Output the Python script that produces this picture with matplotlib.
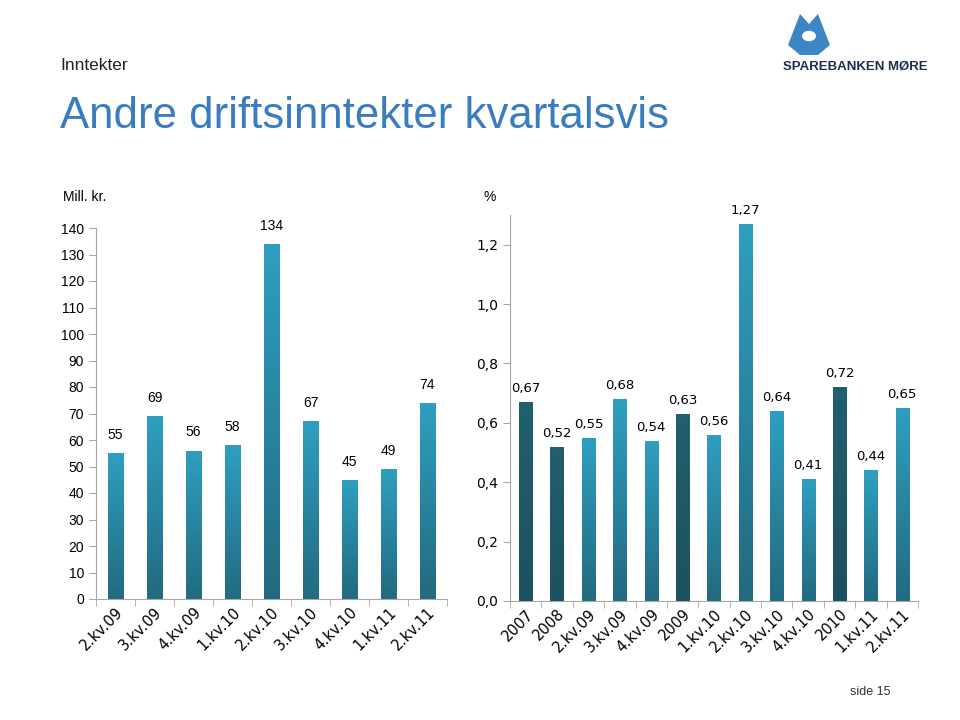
# Andre driftsinntekter kvartalsvis - two bar charts side by side
import numpy as np
import matplotlib.pyplot as plt
from matplotlib.patches import Polygon, Circle
from matplotlib.colors import LinearSegmentedColormap

# left chart: Mill. kr. per quarter
quarters = ["2.kv.09", "3.kv.09", "4.kv.09", "1.kv.10", "2.kv.10",
            "3.kv.10", "4.kv.10", "1.kv.11", "2.kv.11"]
income = [55, 69, 56, 58, 134, 67, 45, 49, 74]

# right chart: % (years dark, quarters light)
periods = ["2007", "2008", "2.kv.09", "3.kv.09", "4.kv.09", "2009", "1.kv.10",
           "2.kv.10", "3.kv.10", "4.kv.10", "2010", "1.kv.11", "2.kv.11"]
pct = [0.67, 0.52, 0.55, 0.68, 0.54, 0.63, 0.56, 1.27, 0.64, 0.41, 0.72, 0.44, 0.65]
is_year = [True, True, False, False, False, True, False, False, False, False, True, False, False]

TEAL = "#2a8eab"
DARK = "#1f5b6b"
AXIS = "#a6a6a6"
teal_grad = LinearSegmentedColormap.from_list("tg", ["#226a7f", "#2f9fc0"])
dark_grad = LinearSegmentedColormap.from_list("dg", ["#1d5060", "#22606f"])

plt.rcParams['font.family'] = ['Liberation Sans', 'DejaVu Sans']

fig = plt.figure(figsize=(9.6, 7.2), dpi=100)
fig.patch.set_facecolor("white")

# header
fig.text(60/960, 1-66/720, "Inntekter", fontsize=12.5, color="#222222", va="center")
fig.text(60/960, 1-117/720, "Andre driftsinntekter kvartalsvis", fontsize=31.5,
         color="#3a7cc0", va="center")
fig.text(855/960, 1-66/720, "SPAREBANKEN MØRE", fontsize=9.5, fontweight="bold",
         color="#1e2e4f", ha="center", va="center")
# rough logo mark
logo = Polygon([[788/960, 1-45/720], [800/960, 1-14/720], [809/960, 1-24/720],
                [818/960, 1-14/720], [830/960, 1-45/720], [818/960, 1-55/720],
                [800/960, 1-55/720]], closed=True, transform=fig.transFigure,
               facecolor="#3d86c6", edgecolor="none")
fig.patches.append(logo)
fig.patches.append(Circle((809/960, 1-36/720), 7/960, transform=fig.transFigure,
                          facecolor="white", edgecolor="none"))
fig.text(870/960, 1-692/720, "side 15", fontsize=9, color="#333333", ha="center", va="center")


def style_axes(ax, n):
    for s in ["top", "right"]:
        ax.spines[s].set_visible(False)
    ax.spines["left"].set_color(AXIS)
    ax.spines["bottom"].set_color(AXIS)
    ax.set_xlim(-0.5, n - 0.5)
    ax.set_xticks(np.arange(-0.5, n, 1.0), minor=True)
    ax.tick_params(axis="x", which="major", length=0, pad=4)
    ax.tick_params(axis="x", which="minor", length=5, color=AXIS)
    ax.tick_params(axis="y", length=5, color=AXIS, labelsize=10)


def gradient_bars(ax, bars, cmaps):
    grad = np.linspace(0, 1, 256).reshape(-1, 1)
    xl, yl = ax.get_xlim(), ax.get_ylim()
    for b, cm in zip(bars, cmaps):
        x0, y0 = b.get_x(), b.get_y()
        im = ax.imshow(grad, extent=[x0, x0 + b.get_width(), y0, y0 + b.get_height()],
                       origin="lower", aspect="auto", cmap=cm, zorder=b.get_zorder())
        im.set_clip_path(b)
    ax.set_xlim(xl)
    ax.set_ylim(yl)


lab_font = ['DejaVu Sans']

# left chart
ax1 = fig.add_axes([96/960, 1-599/720, 351/960, 371/720])
x1 = np.arange(len(quarters))
bars1 = ax1.bar(x1, income, width=0.41, color=TEAL)
ax1.set_ylim(0, 140)
ax1.set_yticks(range(0, 141, 10))
style_axes(ax1, len(quarters))
gradient_bars(ax1, bars1, [teal_grad] * len(quarters))
ax1.set_xticks(x1)
ax1.set_xticklabels(quarters, rotation=45, ha="right", rotation_mode="anchor",
                    fontsize=10.5, family=lab_font)
for xi, v in zip(x1, income):
    ax1.annotate(str(v), (xi, v), xytext=(0, 8), textcoords="offset points",
                 ha="center", va="bottom", fontsize=10)
fig.text(63/960, 1-197/720, "Mill. kr.", fontsize=10, va="center")

# right chart
ax2 = fig.add_axes([510/960, 1-601/720, 408/960, 386/720])
x2 = np.arange(len(periods))
colors = [DARK if y else TEAL for y in is_year]
bars2 = ax2.bar(x2, pct, width=0.42, color=colors)
ax2.set_ylim(0, 1.3)
ticks2 = np.arange(0, 1.21, 0.2)
ax2.set_yticks(ticks2)
ax2.set_yticklabels([("%.1f" % t).replace(".", ",") for t in ticks2], family=lab_font)
style_axes(ax2, len(periods))
gradient_bars(ax2, bars2, [dark_grad if y else teal_grad for y in is_year])
ax2.set_xticks(x2)
ax2.set_xticklabels(periods, rotation=45, ha="right", rotation_mode="anchor",
                    fontsize=10.5, family=lab_font)
for xi, v in zip(x2, pct):
    ax2.annotate(("%.2f" % v).replace(".", ","), (xi, v), xytext=(0, 5),
                 textcoords="offset points", ha="center", va="bottom",
                 fontsize=9.5, family=lab_font)
fig.text(490/960, 1-197/720, "%", fontsize=10, ha="center", va="center")

fig.savefig("out.png", dpi=100)
